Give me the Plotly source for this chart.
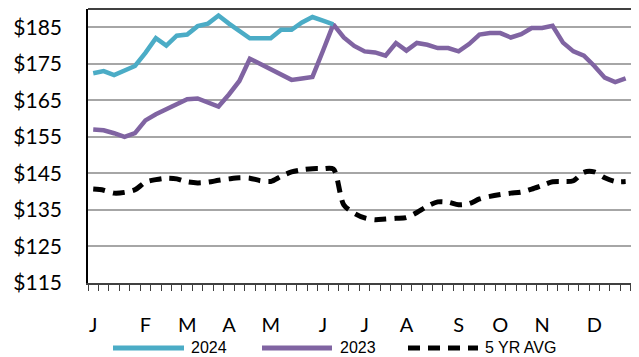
import plotly.graph_objects as go

# weekly prices, $/cwt (week 1 .. 52)
price_2024 = [172.4, 173.0, 171.9, 173.0, 174.4, 178.0, 182.0, 180.0, 182.7, 183.0,
              185.3, 186.0, 188.2, 186.0, 184.0, 182.0, 182.0, 182.0, 184.3, 184.3,
              186.3, 187.8, 186.8, 185.8]

price_2023 = [157.0, 156.8, 156.0, 155.0, 156.0, 159.5, 161.2, 162.5, 164.1, 165.3,
              165.5, 164.4, 163.3, 166.6, 170.3, 176.4, 174.9, 173.3, 172.1, 170.6,
              171.0, 171.4, 178.5, 185.8, 182.2, 179.9, 178.4, 178.1, 177.2, 180.7,
              178.6, 180.7, 180.2, 179.3, 179.3, 178.4, 180.4, 183.0, 183.4, 183.4,
              182.2, 183.1, 184.8, 184.8, 185.4, 180.8, 178.4, 177.2, 174.4, 171.2,
              170.0, 171.0]

avg_5yr = [140.7, 140.4, 139.6, 139.8, 140.5, 142.6, 143.3, 143.7, 143.5, 142.7,
           142.4, 142.6, 143.1, 143.5, 143.8, 143.7, 143.0, 142.8, 144.2, 145.4,
           146.0, 146.3, 146.3, 146.2, 136.4, 134.1, 132.8, 132.3, 132.5, 132.7,
           132.9, 134.3, 136.0, 137.2, 137.1, 136.4, 136.7, 138.0, 138.7, 139.2,
           139.6, 139.9, 140.7, 141.7, 142.7, 142.8, 143.0, 145.3, 145.4, 143.8,
           142.8, 142.8]

month_labels = ["J", "F", "M", "A", "M", "J", "J", "A", "S", "O", "N", "D"]
month_weeks = [0, 5, 9, 13, 17, 22, 26, 30, 35, 39, 43, 48]
y_ticks = [115, 125, 135, 145, 155, 165, 175, 185]

CYAN = "#4BACC6"
PURPLE = "#8064A2"

# the page body adds an 8px margin, so the figure is a bit smaller than the window
OFF = 8
W, H = 639 - OFF, 357 - OFF
L, T, B, R = 88 - OFF, 9 - OFF, 74, 0


def px_x(px):
    # page pixel -> paper coordinate
    return (px - OFF - L) / (W - L - R)


def px_y(py):
    return (H - B - (py - OFF)) / (H - B - T)


fig = go.Figure()

fig.add_trace(go.Scatter(x=list(range(len(avg_5yr))), y=avg_5yr, mode="lines",
                         line=dict(color="black", width=5, dash="12px,8px",
                                   shape="spline", smoothing=0.8),
                         name="5 YR AVG"))
fig.add_trace(go.Scatter(x=list(range(len(price_2023))), y=price_2023, mode="lines",
                         line=dict(color=PURPLE, width=4.5), name="2023"))
fig.add_trace(go.Scatter(x=list(range(len(price_2024))), y=price_2024, mode="lines",
                         line=dict(color=CYAN, width=4.5), name="2024"))

fig.update_layout(
    width=W, height=H,
    margin=dict(l=L, r=R, t=T, b=B),
    paper_bgcolor="white", plot_bgcolor="white",
    showlegend=False,
    font=dict(family="Lato", size=20, color="black"),
)

fig.update_xaxes(
    range=[-0.5, 52.28],
    tickmode="array", tickvals=month_weeks, ticktext=month_labels,
    ticks="", ticklabelstandoff=23,
    tickfont=dict(family="Lato", size=20),
    showgrid=False, zeroline=False,
    showline=True, linecolor="#404040", linewidth=2,
    minor=dict(tickmode="linear", tick0=-0.5, dtick=1, ticks="outside",
               ticklen=6, tickcolor="#404040", tickwidth=1, showgrid=False),
)

fig.update_yaxes(
    range=[115, 190],
    tickmode="array", tickvals=y_ticks,
    ticktext=[f"${v}" for v in y_ticks],
    ticks="", ticklabelstandoff=20,
    tickfont=dict(family="Lato", size=21),
    showgrid=True, gridcolor="#A6A6A6", gridwidth=2,
    zeroline=False,
    showline=True, linecolor="black", linewidth=1.5,
)

# top border of the plot area
fig.add_shape(type="line", xref="paper", yref="paper", x0=0, x1=1, y0=1, y1=1,
              line=dict(color="black", width=1.5))

# legend drawn below the axis
ly = px_y(348)
legend_items = [
    (113, 184, CYAN, "solid", "2024", 189),
    (262, 332, PURPLE, "solid", "2023", 338),
    (408, 478, "black", "12px,8px", "5 YR AVG", 483),
]
for x0, x1, col, dash, label, tx in legend_items:
    fig.add_shape(type="line", xref="paper", yref="paper",
                  x0=px_x(x0), x1=px_x(x1), y0=ly, y1=ly,
                  line=dict(color=col, width=5, dash=dash))
    fig.add_annotation(xref="paper", yref="paper", x=px_x(tx), y=ly,
                       text=label, showarrow=False, xanchor="left", yanchor="middle",
                       font=dict(family="Liberation Sans", size=16, color="black"))

fig.write_html("out.html")
